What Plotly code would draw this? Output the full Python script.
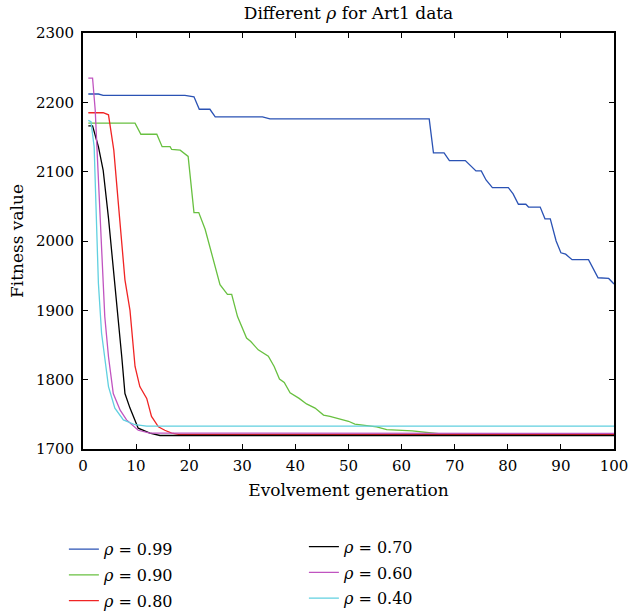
import plotly.graph_objects as go

# ---- data ----
x_099 = [1, 2.9, 3.8, 19.2, 20.9, 21.9, 23.9, 24.9, 33.8, 35.2, 65.2, 66, 68, 69, 72, 74, 75, 75.9, 77.1,
         80.1, 81, 82, 83.4, 83.9, 86.1, 87, 88, 89.1, 90, 90.9, 92.1, 95.2, 97, 99, 100]
y_099 = [2212, 2212, 2210, 2210, 2208, 2190, 2190, 2179, 2179, 2176, 2176, 2127, 2127, 2116, 2116, 2101, 2101,
         2088, 2077, 2077, 2068, 2053, 2053, 2049, 2049, 2032, 2032, 2000, 1983, 1981, 1973, 1973, 1947, 1946, 1938]

x_090 = [1, 9.8, 10.9, 13.9, 14.9, 16.4, 16.7, 18.3, 19.8, 20.9, 21.8, 23, 25.8, 27.2, 28, 29.1, 30.8, 31.6,
         33, 34.9, 36, 37, 37.9, 39, 40.7, 42.1, 43.7, 45.3, 46.5, 50, 51.2, 55.3, 57.2, 62, 67, 100]
y_090 = [2170, 2170, 2154, 2154, 2136, 2136, 2132, 2131, 2122, 2041, 2041, 2017, 1937, 1923, 1923, 1891, 1860,
         1855, 1843, 1834, 1819, 1801, 1796, 1781, 1773, 1765, 1759, 1749, 1747, 1740, 1736, 1732, 1728, 1726,
         1722, 1721.5]

x_080 = [1, 3.8, 4.8, 5.8, 6.6, 7.9, 8.85, 9.8, 10.7, 12, 12.9, 14.2, 15.4, 16.7, 18, 100]
y_080 = [2185, 2185, 2182, 2131, 2059, 1944, 1900, 1819, 1790, 1773, 1747, 1732, 1727, 1723, 1721, 1721]

x_070 = [1, 1.8, 2.9, 3.8, 4.8, 5.7, 6.65, 7.3, 7.9, 8.85, 10.4, 12.6, 14.5, 100]
y_070 = [2166, 2166, 2136, 2102, 2033, 1963, 1891, 1833, 1780, 1759, 1730, 1723, 1719.5, 1719.5]

x_060 = [1, 1.8, 2.3, 3.2, 4.1, 4.8, 5.7, 7, 8.2, 10.4, 12.6, 100]
y_060 = [2235, 2235, 2189, 2030, 1891, 1833, 1780, 1756, 1742, 1727, 1723, 1722.5]

x_040 = [1, 1.5, 2.1, 2.6, 2.9, 3.5, 4.8, 6, 7.6, 9.8, 12, 100]
y_040 = [2174, 2172, 2136, 2030, 1939, 1867, 1790, 1759, 1742, 1735, 1733, 1733]

x_ticks = [0, 10, 20, 30, 40, 50, 60, 70, 80, 90, 100]
y_ticks = [1700, 1800, 1900, 2000, 2100, 2200, 2300]

series = [
    ("0.99", x_099, y_099, "rgb(42,82,180)", "legend"),
    ("0.90", x_090, y_090, "rgb(104,192,64)", "legend"),
    ("0.80", x_080, y_080, "rgb(240,36,36)", "legend"),
    ("0.70", x_070, y_070, "rgb(0,0,0)", "legend2"),
    ("0.60", x_060, y_060, "rgb(192,84,192)", "legend2"),
    ("0.40", x_040, y_040, "rgb(96,208,224)", "legend2"),
]

FONT = "DejaVu Serif"

fig = go.Figure()
for name, xs, ys, col, lg in series:
    fig.add_trace(go.Scatter(
        x=xs, y=ys, mode="lines", name=f"<i>ρ</i> = {name}",
        line=dict(color=col, width=1.3), legend=lg, legendgroup=name,
    ))

axis_common = dict(
    showline=True, linecolor="black", linewidth=1.8, mirror="ticks",
    ticks="inside", ticklen=5, tickwidth=1.2, tickcolor="black",
    showgrid=False, zeroline=False,
    tickfont=dict(family=FONT, size=15, color="black"),
)

fig.update_layout(
    width=629, height=614,
    margin=dict(l=83, r=15, t=33, b=165, autoexpand=False),
    paper_bgcolor="white", plot_bgcolor="white",
    font=dict(family=FONT, color="black"),
    title=dict(text="Different <i>ρ</i> for Art1 data", xref="paper", x=0.5, xanchor="center",
               yref="container", y=1 - 13 / 614, yanchor="middle",
               font=dict(family=FONT, size=17, color="black")),
    xaxis=dict(range=[0, 100], tickvals=x_ticks, ticktext=[str(v) for v in x_ticks],
               ticklabelstandoff=2,
               title=dict(text="Evolvement generation", font=dict(family=FONT, size=17), standoff=10),
               **axis_common),
    yaxis=dict(range=[1700, 2300], tickvals=y_ticks, ticktext=[str(v) for v in y_ticks],
               ticklabelstandoff=4,
               title=dict(text="Fitness value", font=dict(family=FONT, size=17), standoff=8),
               **axis_common),
    showlegend=True,
    legend=dict(x=-0.036, xanchor="left", y=-0.2, yanchor="top", orientation="v",
                traceorder="grouped", tracegroupgap=2, bgcolor="rgba(0,0,0,0)",
                font=dict(family=FONT, size=16, color="black")),
    legend2=dict(x=0.416, xanchor="left", y=-0.194, yanchor="top", orientation="v",
                 traceorder="grouped", tracegroupgap=2, bgcolor="rgba(0,0,0,0)",
                 font=dict(family=FONT, size=16, color="black")),
)

fig.write_html("out.html")
